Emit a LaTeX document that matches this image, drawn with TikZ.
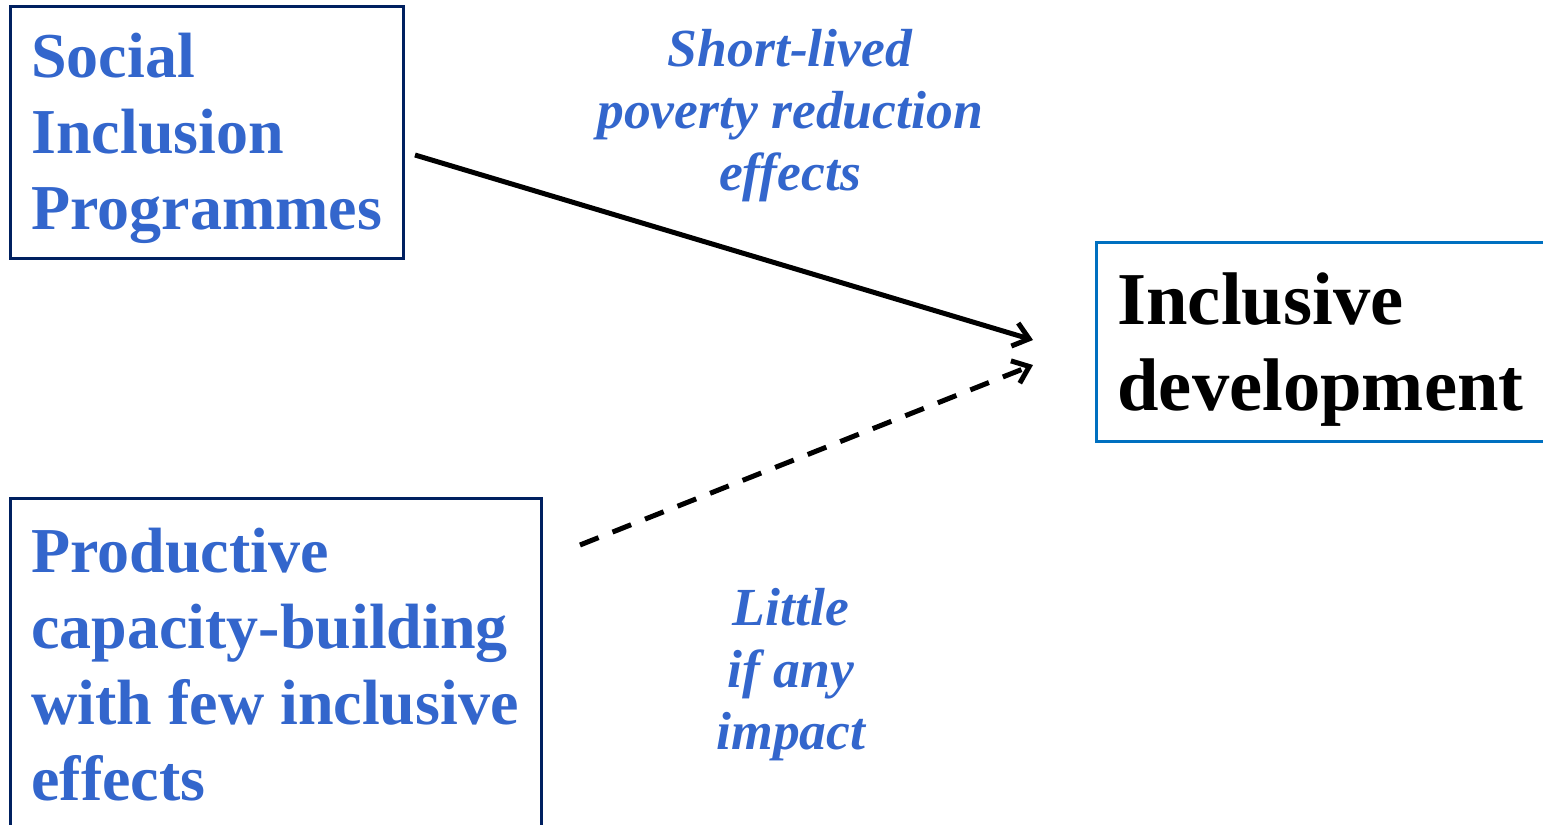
\documentclass[tikz,border=0pt]{standalone}
\usepackage{fontspec}
\setmainfont{Liberation Serif}
\usepackage{tikz}
\usepackage{xcolor}
\usetikzlibrary{arrows.meta}
\definecolor{blueText}{RGB}{51,102,204}
\definecolor{navyLine}{RGB}{0,32,96}
\definecolor{skyLine}{RGB}{0,112,192}

\begin{document}
\begin{tikzpicture}[
	x = 0.5pt, y = -0.5pt,
	box/.style = {draw, line width = 1.5pt, anchor = north west, outer sep = 0pt, inner sep = 0pt},
	txt/.style = {anchor = base west, inner sep = 0pt, align = flush left, text width = 300pt, text = blueText, font = \bfseries\fontsize{32}{38.1}\selectfont},
	lbl/.style = {anchor = base, inner sep = 0pt, align = center, text = blueText, font = \bfseries\itshape\fontsize{26.8}{30.9}\selectfont},
	link/.style = {line width = 2.5pt, -{Straight Barb[length = 7.5pt, width = 12pt]}}
]
\useasboundingbox (0,0) rectangle (1543,825);
\clip (0,0) rectangle (1543,825);
\node[box, draw = navyLine, minimum width = 196.5pt, minimum height = 126pt] (sip) at (10,6) {};
\node[box, draw = navyLine, minimum width = 265.5pt, minimum height = 172pt] (pcb) at (10,498) {};
\node[box, draw = skyLine, minimum width = 240pt, minimum height = 99.5pt] (incdev) at (1096,242) {};
\node[txt] (sipText) at (31,77) {Social\\Inclusion\\Programmes};
\node[txt] (pcbText) at (31,572) {Productive\\capacity-building\\with few inclusive\\effects};
\node[txt, text = black, font = \bfseries\fontsize{37.3}{43}\selectfont] (incdevText) at (1117,324) {Inclusive\\development};
\node[lbl] (shortlbl) at (790,190) {Short-lived\\poverty reduction\\effects};
\node[lbl] (littlelbl) at (791,749) {Little\\if any\\impact};
\coordinate (sipOut) at (415,155);
\coordinate (pcbOut) at (580,545);
\coordinate (incdevIn) at (1033,340);
\coordinate (incdevInB) at (1033,365);
\draw[link] (sipOut) -- (incdevIn);
\draw[link, dash pattern = on 10pt off 7.5pt] (pcbOut) -- (incdevInB);
\end{tikzpicture}
\end{document}
